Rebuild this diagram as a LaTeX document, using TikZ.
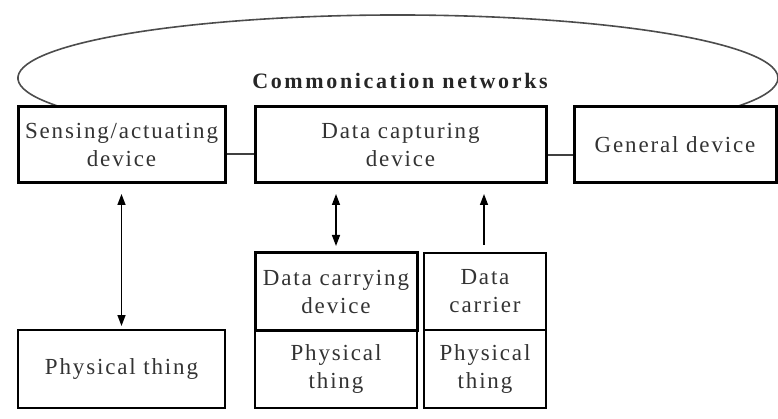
\documentclass[tikz,border=0pt]{standalone}
\usepackage{fontspec}
\setmainfont{Liberation Serif}
\usetikzlibrary{arrows.meta}
\begin{document}
\begin{tikzpicture}[x=1pt,y=-1pt,
  lbl/.style={font=\addfontfeatures{LetterSpace=8}\fontsize{23}{28}\selectfont, text=black!80, align=center, inner sep=0pt},
  thickbox/.style={lbl, draw=black, line width=3pt, rectangle},
  thinbox/.style={lbl, draw=black, line width=1.6pt, rectangle},
  link/.style={line width=1.4pt, draw=black!75},
  tip/.style={line width=1.4pt, {Triangle[width=8pt,length=11pt]}-{Triangle[width=8pt,length=11pt]}},
  uptip/.style={line width=1.4pt, -{Triangle[width=8pt,length=11pt]}}]
\useasboundingbox (0,0) rectangle (778,419);

% communication network cloud (y axis points down, so the upper half lies between 180 and 360 degrees)
\draw[line width=1.6pt, draw=black!70] (398,78) ++(153:380 and 63) arc[start angle=153, end angle=387, x radius=380, y radius=63];
\node[font=\addfontfeatures{LetterSpace=12}\fontsize{22}{26}\selectfont\bfseries, text=black!85, inner sep=0pt] (net) at (400,81) {Commonication networks};

% upper row of devices
\node[thickbox, minimum width=207pt, minimum height=76pt] (sense) at (121.5,145) {Sensing/actuating\\device};
\node[thickbox, minimum width=291pt, minimum height=76pt] (capture) at (400.5,145) {Data capturing\\device};
\node[thickbox, minimum width=202pt, minimum height=76pt] (general) at (675,145) {General device};

\draw[link] ([yshift=-9pt]sense.east) -- ([yshift=-9pt]capture.west);
\draw[link] ([yshift=-10pt]capture.east) -- ([yshift=-10pt]general.west);

% lower row
\node[thinbox, minimum width=207pt, minimum height=78pt] (thing1) at (121.5,369) {Physical thing};
\node[thinbox, minimum width=162pt, minimum height=78pt] (thing2) at (336,369) {Physical\\thing};
\node[thickbox, minimum width=162pt, minimum height=77pt] (carrying) at (336,291.5) {Data carrying\\device};
\node[thinbox, minimum width=122pt, minimum height=78pt] (thing3) at (485,369) {Physical\\thing};
\node[thinbox, minimum width=122pt, minimum height=77pt] (carrier) at (485,291.5) {Data\\carrier};

% interactions
\coordinate (a1) at (121.5,194);
\coordinate (a2) at (121.5,326);
\coordinate (b1) at (336,194);
\coordinate (b2) at (336,246);
\coordinate (c1) at (484,194);
\coordinate (c2) at (484,245);
\draw[tip] (a1) -- (a2);
\draw[tip] (b1) -- (b2);
\draw[uptip] (c2) -- (c1);
\end{tikzpicture}
\end{document}
